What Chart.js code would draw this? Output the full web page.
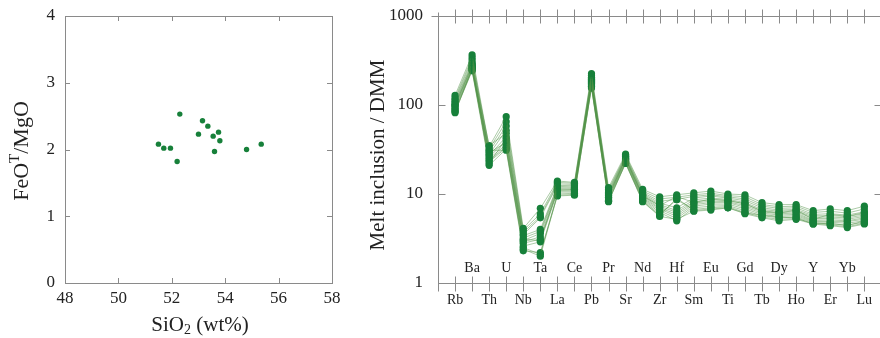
<!DOCTYPE html>
<html>
<head>
<meta charset="utf-8">
<script src="https://cdn.jsdelivr.net/npm/chart.js@4/dist/chart.umd.min.js"></script>
<style>
  html, body { margin: 0; padding: 0; background: #fff; width: 880px; height: 338px; overflow: hidden; }
  #leftChart { position: absolute; left: 0; top: 0; }
  #rightChart { position: absolute; left: 340px; top: 0; }
</style>
</head>
<body>
<canvas id="leftChart" width="340" height="338"></canvas>
<canvas id="rightChart" width="550" height="338"></canvas>
<script>
// left panel: melt inclusions, FeOT/MgO vs SiO2
const sio2 = [51.5, 51.7, 51.95, 52.3, 52.2, 53.0, 53.15, 53.35, 53.55, 53.75, 53.8, 53.6, 54.8, 55.35];
const feoMgo = [2.08, 2.02, 2.02, 2.53, 1.82, 2.23, 2.43, 2.35, 2.2, 2.26, 2.13, 1.97, 2.0, 2.08];

// right panel: DMM normalised spider diagram
const elements = ['Rb', 'Ba', 'Th', 'U', 'Nb', 'Ta', 'La', 'Ce', 'Pb', 'Pr', 'Sr', 'Nd', 'Zr',
                  'Hf', 'Sm', 'Eu', 'Ti', 'Gd', 'Tb', 'Dy', 'Ho', 'Y', 'Er', 'Yb', 'Lu'];
const yTicks = [1, 10, 100, 1000];

const mi01 = [128, 365, 34, 74, 4.1, 6.9, 14.0, 13.5, 225, 11.8, 28.0, 11.3, 9.3, 9.8, 10.3, 10.8, 10.0, 9.8, 8.0, 7.6, 7.6, 6.5, 6.8, 6.5, 7.3];
const mi02 = [120, 340, 32, 65, 3.9, 6.0, 13.5, 13.2, 215, 11.2, 27.0, 10.8, 8.8, 9.2, 9.8, 10.2, 9.6, 9.3, 7.6, 7.2, 7.3, 6.2, 6.4, 6.1, 6.8];
const mi03 = [115, 320, 30, 58, 3.7, 5.6, 13.0, 12.8, 205, 10.8, 26.5, 10.4, 8.3, 8.7, 9.4, 9.8, 9.3, 8.8, 7.3, 6.9, 7.0, 5.9, 6.0, 5.8, 6.3];
const mi04 = [110, 300, 28, 52, 3.5, 5.4, 12.5, 12.4, 198, 10.4, 26.0, 10.1, 7.9, 7.0, 9.0, 9.5, 9.0, 8.4, 7.0, 6.6, 6.7, 5.7, 5.7, 5.6, 6.0];
const mi05 = [106, 290, 35, 48, 3.4, 4.0, 12.2, 12.0, 190, 10.1, 25.5, 9.8, 7.6, 6.5, 8.6, 9.0, 8.7, 8.0, 6.7, 6.4, 6.5, 5.5, 5.5, 5.4, 5.8];
const mi06 = [102, 280, 27, 44, 3.2, 3.8, 11.8, 11.7, 185, 9.8, 25.0, 9.6, 7.3, 6.2, 8.2, 8.6, 8.5, 7.7, 6.5, 6.2, 6.3, 5.3, 5.3, 5.2, 5.6];
const mi07 = [98, 270, 26, 40, 3.0, 3.6, 11.5, 11.4, 180, 9.5, 24.5, 9.4, 7.0, 5.9, 7.9, 8.3, 8.2, 7.4, 6.3, 6.0, 6.1, 5.1, 5.1, 5.0, 5.4];
const mi08 = [95, 262, 29, 38, 2.9, 3.3, 11.2, 11.1, 175, 9.2, 24.0, 9.1, 6.8, 5.6, 7.6, 8.0, 8.0, 7.1, 6.1, 5.8, 5.9, 5.0, 4.9, 4.9, 5.2];
const mi09 = [92, 255, 25, 36, 2.8, 3.1, 10.8, 10.8, 170, 9.0, 23.5, 8.9, 6.5, 5.3, 7.3, 7.7, 7.7, 6.8, 5.9, 5.6, 5.7, 4.9, 4.8, 4.7, 5.0];
const mi10 = [89, 250, 24, 34, 2.6, 2.9, 10.5, 10.5, 165, 8.8, 23.0, 8.7, 6.2, 5.0, 7.0, 7.3, 7.4, 6.5, 5.7, 5.4, 5.5, 4.8, 4.6, 4.5, 4.8];
const mi11 = [86, 245, 23, 33, 2.5, 2.1, 10.0, 10.2, 160, 8.5, 22.5, 8.5, 5.9, 8.6, 6.7, 7.0, 7.2, 6.2, 5.5, 5.2, 5.3, 4.7, 4.5, 4.3, 4.7];
const mi12 = [84, 242, 21, 32, 2.4, 2.0, 9.7, 9.9, 155, 8.3, 22.0, 8.3, 5.7, 9.0, 6.5, 6.8, 7.0, 6.0, 5.4, 5.0, 5.2, 4.6, 4.4, 4.2, 4.6];
const mi13 = [82, 258, 31, 31, 2.3, 2.2, 9.5, 9.7, 160, 8.2, 22.2, 8.2, 5.6, 5.2, 6.4, 6.6, 7.0, 6.1, 5.8, 5.5, 5.4, 4.6, 4.7, 4.4, 5.0];
const mi14 = [100, 275, 22, 42, 3.1, 3.0, 11.0, 11.2, 195, 9.6, 24.8, 9.5, 7.4, 9.4, 8.0, 8.8, 8.4, 7.8, 6.4, 6.1, 6.6, 5.2, 5.9, 5.6, 6.2];
const samples = [mi01, mi02, mi03, mi04, mi05, mi06, mi07, mi08, mi09, mi10, mi11, mi12, mi13, mi14];

const SERIF = '"Liberation Serif", "DejaVu Serif", serif';
const GREEN = '#17803a';
const FRAME = '#8a8a8a';
const TEXT = '#222';

// no extra room for tick labels, the layout padding does the job
function noPad(s) {
    s.paddingTop = 0; s.paddingBottom = 0;
    s.paddingLeft = 0; s.paddingRight = 0;
}

// draws "base" + small raised/lowered part + rest, centred on 0,0
function drawRichText(ctx, parts, size) {
    let total = 0;
    parts.forEach(p => {
        ctx.font = (p.small ? Math.round(size * 0.68) : size) + 'px ' + SERIF;
        p.w = ctx.measureText(p.t).width;
        total += p.w;
    });
    let x = -total / 2;
    ctx.textBaseline = 'middle';
    ctx.textAlign = 'left';
    parts.forEach(p => {
        ctx.font = (p.small ? Math.round(size * 0.68) : size) + 'px ' + SERIF;
        ctx.fillText(p.t, x, p.dy || 0);
        x += p.w;
    });
}

const leftFrame = {
    id: 'leftFrame',
    afterDraw(chart) {
        const { ctx, chartArea: a, scales } = chart;
        ctx.save();
        ctx.strokeStyle = FRAME;
        ctx.lineWidth = 1;
        ctx.strokeRect(Math.round(a.left) + 0.5, Math.round(a.top) + 0.5,
                       Math.round(a.right - a.left), Math.round(a.bottom - a.top));
        ctx.beginPath();
        scales.x.ticks.forEach(t => {
            const px = Math.round(scales.x.getPixelForValue(t.value)) + 0.5;
            ctx.moveTo(px, a.top); ctx.lineTo(px, a.top + 5);
            ctx.moveTo(px, a.bottom); ctx.lineTo(px, a.bottom - 5);
        });
        scales.y.ticks.forEach(t => {
            const py = Math.round(scales.y.getPixelForValue(t.value)) + 0.5;
            ctx.moveTo(a.left, py); ctx.lineTo(a.left + 5, py);
            ctx.moveTo(a.right, py); ctx.lineTo(a.right - 5, py);
        });
        ctx.stroke();

        ctx.fillStyle = TEXT;
        ctx.translate(200, 325);
        drawRichText(ctx, [{ t: 'SiO' }, { t: '2', small: true, dy: 5 }, { t: ' (wt%)' }], 21);
        ctx.setTransform(1, 0, 0, 1, 0, 0);
        ctx.translate(22, 151);
        ctx.rotate(-Math.PI / 2);
        drawRichText(ctx, [{ t: 'FeO' }, { t: 'T', small: true, dy: -7 }, { t: '/MgO' }], 22);
        ctx.restore();
    }
};

new Chart(document.getElementById('leftChart'), {
    type: 'scatter',
    data: {
        datasets: [{
            data: sio2.map((x, i) => ({ x: x, y: feoMgo[i] })),
            backgroundColor: GREEN,
            borderWidth: 0,
            pointRadius: 2.7,
            pointHoverRadius: 2.7
        }]
    },
    options: {
        responsive: false,
        animation: false,
        devicePixelRatio: 1,
        layout: { padding: { top: 16, right: 8, left: 0, bottom: 0 } },
        plugins: { legend: { display: false }, tooltip: { enabled: false } },
        scales: {
            x: {
                type: 'linear', min: 48, max: 58,
                grid: { display: false, drawTicks: false },
                border: { display: false },
                ticks: { stepSize: 2, color: TEXT, font: { family: SERIF, size: 17 }, padding: 5 },
                afterFit: s => { s.height = 55; noPad(s); }
            },
            y: {
                type: 'linear', min: 0, max: 4,
                grid: { display: false, drawTicks: false },
                border: { display: false },
                ticks: { stepSize: 1, color: TEXT, font: { family: SERIF, size: 17 }, padding: 10 },
                afterFit: s => { s.width = 65; noPad(s); }
            }
        }
    },
    plugins: [leftFrame]
});

const rightFrame = {
    id: 'rightFrame',
    afterDraw(chart) {
        const { ctx, chartArea: a, scales } = chart;
        const L = Math.round(a.left) + 0.5, R = Math.round(a.right) + 0.5;
        const T = Math.round(a.top) + 0.5, B = Math.round(a.bottom) + 0.5;
        ctx.save();
        ctx.strokeStyle = FRAME;
        ctx.lineWidth = 1;
        ctx.beginPath();
        ctx.moveTo(L - 7, T); ctx.lineTo(R, T);
        ctx.moveTo(L, B); ctx.lineTo(R, B);
        ctx.moveTo(L, T - 4); ctx.lineTo(L, B + 8);
        ctx.moveTo(R, T); ctx.lineTo(R, B);
        elements.forEach((el, i) => {
            const px = Math.round(scales.x.getPixelForValue(i)) + 0.5;
            ctx.moveTo(px, T - 7); ctx.lineTo(px, T + 7);
            ctx.moveTo(px, B - 7); ctx.lineTo(px, B + 8);
        });
        yTicks.slice(1, -1).forEach(v => {
            const py = Math.round(scales.y.getPixelForValue(v)) + 0.5;
            ctx.moveTo(L, py); ctx.lineTo(L + 7, py);
            ctx.moveTo(R, py); ctx.lineTo(R - 7, py);
        });
        ctx.stroke();

        ctx.fillStyle = TEXT;
        ctx.font = '14px ' + SERIF;
        ctx.textAlign = 'center';
        ctx.textBaseline = 'middle';
        elements.forEach((el, i) => {
            const px = scales.x.getPixelForValue(i);
            ctx.fillText(el, px, i % 2 === 0 ? a.bottom + 17 : a.bottom - 15);
        });

        ctx.translate(38, 155);
        ctx.rotate(-Math.PI / 2);
        drawRichText(ctx, [{ t: 'Melt inclusion / DMM' }], 21);
        ctx.restore();
    }
};

new Chart(document.getElementById('rightChart'), {
    type: 'line',
    data: {
        datasets: samples.map(s => ({
            data: s.map((v, i) => ({ x: i, y: v })),
            borderColor: 'rgba(80, 145, 70, 0.6)',
            borderWidth: 0.8,
            pointBackgroundColor: GREEN,
            pointBorderWidth: 0,
            pointRadius: 3.6,
            pointHoverRadius: 3.6,
            tension: 0
        }))
    },
    options: {
        responsive: false,
        animation: false,
        devicePixelRatio: 1,
        layout: { padding: { top: 16, right: 8.6, left: 0, bottom: 55 } },
        plugins: { legend: { display: false }, tooltip: { enabled: false } },
        scales: {
            x: { type: 'linear', min: -1, max: 25, display: false },
            y: {
                type: 'logarithmic', min: 1, max: 1000,
                grid: { display: false, drawTicks: false },
                border: { display: false },
                afterBuildTicks: s => { s.ticks = yTicks.map(v => ({ value: v })); },
                ticks: { color: TEXT, font: { family: SERIF, size: 17 }, padding: 15, callback: v => String(v) },
                afterFit: s => { s.width = 98; noPad(s); }
            }
        }
    },
    plugins: [rightFrame]
});
</script>
</body>
</html>
